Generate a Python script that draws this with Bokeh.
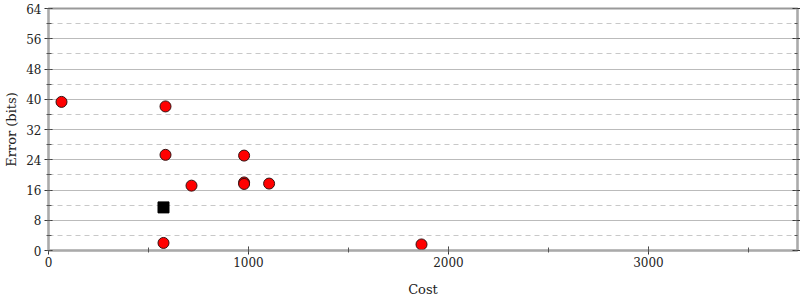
from bokeh.plotting import figure
from bokeh.models import Range1d, LinearAxis, SingleIntervalTicker, CustomJSTickFormatter
from bokeh.embed import file_html
from bokeh.resources import INLINE

# data
cost_other = [65, 585, 585, 715, 978, 978, 978, 1103, 575, 1865]
error_other = [39.3, 38.1, 25.3, 17.15, 25.1, 18.0, 17.6, 17.7, 2.0, 1.6]
cost_best = [575]
error_best = [11.4]

x_ticks_major = 1000
y_ticks_major = 8

FONT = "DejaVu Serif"

p = figure(width=800, height=300, output_backend="svg", toolbar_location=None,
           x_range=Range1d(0, 3745), y_range=Range1d(0, 64),
           min_border_left=48, min_border_right=3, min_border_top=8,
           min_border_bottom=50, background_fill_color="white",
           border_fill_color="white")
p.outline_line_color = "#999999"
p.outline_line_width = 2

xt = SingleIntervalTicker(interval=x_ticks_major, num_minor_ticks=2)
yt = SingleIntervalTicker(interval=y_ticks_major, num_minor_ticks=2)

p.xaxis.ticker = xt
p.yaxis.ticker = yt
p.xgrid.visible = False
p.ygrid.ticker = yt
p.ygrid.grid_line_color = "#bbbbbb"
p.ygrid.grid_line_width = 1
p.ygrid.minor_grid_line_color = "#c8c8c8"
p.ygrid.minor_grid_line_dash = "5 4"

for ax in (p.xaxis[0], p.yaxis[0]):
    ax.axis_line_color = "#aaaaaa"
    ax.axis_line_width = 2
    ax.major_tick_line_color = "#333333"
    ax.minor_tick_line_color = "#555555"
    ax.major_tick_in = 4
    ax.major_tick_out = 4
    ax.minor_tick_in = 3
    ax.minor_tick_out = 2
    ax.major_label_text_font = FONT
    ax.major_label_text_font_size = "12px"
    ax.major_label_text_color = "#222222"
    ax.axis_label_text_font = FONT
    ax.axis_label_text_font_size = "13px"
    ax.axis_label_text_font_style = "normal"
    ax.axis_label_text_color = "#222222"

p.xaxis.axis_label = "Cost"
p.yaxis.axis_label = "Error (bits)"
p.xaxis.major_label_standoff = 2
p.xaxis.axis_label_standoff = 12
p.yaxis.major_label_standoff = 3
p.yaxis.axis_label_standoff = 4

ra = LinearAxis(ticker=yt, formatter=CustomJSTickFormatter(code="return ''"))
ra.axis_line_color = "#aaaaaa"
ra.axis_line_width = 2
ra.major_tick_line_color = "#333333"
ra.minor_tick_line_color = "#555555"
ra.major_tick_in = 5
ra.major_tick_out = 3
ra.minor_tick_in = 3
ra.minor_tick_out = 0
ra.major_label_standoff = 0
p.add_layout(ra, "right")

p.scatter(cost_other, error_other, marker="circle", size=11,
          fill_color="#ff0000", line_color="#331111", line_width=1)
p.scatter(cost_best, error_best, marker="square", size=11,
          fill_color="#000000", line_color="#000000")

open("out.html", "w").write(file_html(p, INLINE))
